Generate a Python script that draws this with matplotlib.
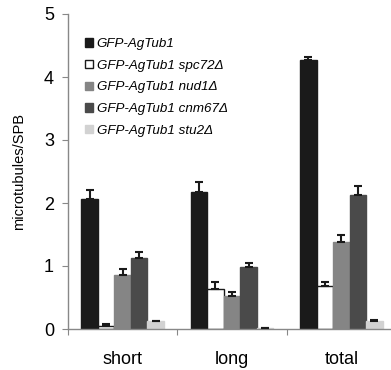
import matplotlib
matplotlib.use("Agg")
import matplotlib.pyplot as plt
import numpy as np

plt.rcParams['font.family'] = ['Liberation Sans', 'DejaVu Sans']

categories = ["short", "long", "total"]
series_names = ["GFP-AgTub1", "GFP-AgTub1 spc72Δ", "GFP-AgTub1 nud1Δ",
                "GFP-AgTub1 cnm67Δ", "GFP-AgTub1 stu2Δ"]
values = [
    [2.07, 2.18, 4.27],
    [0.05, 0.64, 0.68],
    [0.85, 0.52, 1.38],
    [1.13, 0.98, 2.12],
    [0.12, 0.01, 0.13],
]
errors = [
    [0.14, 0.15, 0.04],
    [0.03, 0.11, 0.06],
    [0.10, 0.07, 0.11],
    [0.10, 0.07, 0.15],
    [0.01, 0.005, 0.015],
]
colors = ["#1a1a1a", "#ffffff", "#858585", "#4a4a4a", "#d2d2d2"]
edges = ["#1a1a1a", "#1a1a1a", "#858585", "#4a4a4a", "#d2d2d2"]

fig = plt.figure(figsize=(3.91, 3.70), dpi=100)
ax = fig.add_axes([68/391, 1-329/370, 1-68/391 + 5/391, (329-14)/370])

x = np.arange(len(categories))
w = 0.151
for i in range(5):
    pos = x + (i - 2) * w
    ax.bar(pos, values[i], w, color=colors[i], edgecolor=edges[i], linewidth=1.0,
           label=series_names[i], zorder=2)
    ax.errorbar(pos, values[i], yerr=[np.zeros(3), errors[i]], fmt='none',
                ecolor='#1a1a1a', elinewidth=1.5, capsize=3, capthick=1.5, zorder=3)

ax.set_xlim(-0.5, 2.5)
ax.set_ylim(0, 5)
ax.set_yticks([0, 1, 2, 3, 4, 5])
ax.set_xticks([-0.5, 0.5, 1.5, 2.5])
ax.set_xticklabels([])
ax.set_xticks(x, minor=True)
ax.set_xticklabels(categories, minor=True, fontsize=13)
ax.tick_params(axis='x', which='minor', length=0, pad=16)
ax.tick_params(axis='x', which='major', length=4, color='#888888', direction='out')
ax.tick_params(axis='y', length=4, color='#888888', labelsize=13, pad=6, direction='out')
for s in ['top', 'right']:
    ax.spines[s].set_visible(False)
for s in ['left', 'bottom']:
    ax.spines[s].set_color('#888888')
    ax.spines[s].set_linewidth(1.0)
ax.set_ylabel("microtubules/SPB", fontsize=10.5)
ax.yaxis.set_label_coords(-41/323, 0.5)

leg = ax.legend(loc='upper left', bbox_to_anchor=(0.035, 0.94), frameon=False,
                handlelength=0.6, handleheight=0.6, handletextpad=0.3,
                labelspacing=0.72, borderaxespad=0.0,
                prop={'style': 'italic', 'size': 9.6})

fig.savefig("out.png", dpi=100)
